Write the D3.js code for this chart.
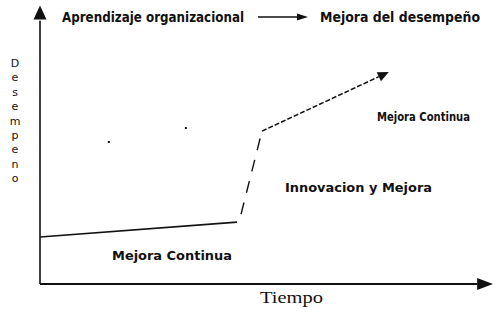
<!DOCTYPE html>
<html><head><meta charset="utf-8">
<script src="https://cdn.jsdelivr.net/npm/d3@7"></script>
<style>html,body{margin:0;padding:0;background:#fff;}svg{display:block;}</style>
</head><body>
<script>
// Data (time in % of axis, performance in % of axis)
const phases = ["Mejora Continua", "Innovacion y Mejora", "Mejora Continua"];
const time = [0, 43.5, 49.0, 77.0];
const performance = [16.8, 22.1, 54.6, 75.7];
const specksTime = [15.2, 32.2];
const specksPerf = [50.7, 55.7];
const titleLeft = "Aprendizaje organizacional";
const titleRight = "Mejora del desempeño";
const yLabel = "Desempeno";
const xLabel = "Tiempo";

const W = 499, H = 320;
const svg = d3.select("body").append("svg").attr("width", W).attr("height", H);
const x = d3.scaleLinear().domain([0, 100]).range([40, 493]);
const y = d3.scaleLinear().domain([0, 100]).range([284, 4]);

const ink = "#111";
// Axes
svg.append("line").attr("x1", x(0)).attr("x2", x(0)).attr("y1", y(0)).attr("y2", y(94))
  .attr("stroke", ink).attr("stroke-width", 1.6);
svg.append("path").attr("d", `M${x(0)},${y(99.5)} L${x(0)-6.5},${y(94.5)} L${x(0)+6.5},${y(94.5)} Z`).attr("fill", ink);
svg.append("line").attr("x1", x(0)).attr("x2", x(96.5)).attr("y1", y(0)).attr("y2", y(0))
  .attr("stroke", ink).attr("stroke-width", 2.2);
svg.append("path").attr("d", `M${x(100)},${y(0)} L${x(96.5)},${y(0)-6} L${x(96.5)},${y(0)+6} Z`).attr("fill", ink);

// Data line
const pts = time.map((t, i) => [x(t), y(performance[i])]);
svg.append("line").attr("x1", pts[0][0]).attr("y1", pts[0][1]).attr("x2", pts[1][0]).attr("y2", pts[1][1])
  .attr("stroke", ink).attr("stroke-width", 1.6);
svg.append("line").attr("x1", pts[1][0] + 4).attr("y1", pts[1][1] - 8).attr("x2", pts[2][0]).attr("y2", pts[2][1])
  .attr("stroke", ink).attr("stroke-width", 1.4).attr("stroke-dasharray", "12,10");
const dx = pts[3][0] - pts[2][0], dy = pts[3][1] - pts[2][1];
const len = Math.hypot(dx, dy), ux = dx / len, uy = dy / len;
const hb = [pts[3][0] - ux * 11, pts[3][1] - uy * 11];
svg.append("line").attr("x1", pts[2][0]).attr("y1", pts[2][1]).attr("x2", hb[0]).attr("y2", hb[1])
  .attr("stroke", ink).attr("stroke-width", 1.5).attr("stroke-dasharray", "5,2");
svg.append("path").attr("d", `M${pts[3][0]},${pts[3][1]} L${hb[0] - uy * 5},${hb[1] + ux * 5} L${hb[0] + uy * 5},${hb[1] - ux * 5} Z`)
  .attr("fill", ink);

// specks
svg.selectAll("rect.speck").data(specksTime).join("rect").attr("class", "speck")
  .attr("x", (d) => x(d) - 1).attr("y", (d, i) => y(specksPerf[i]) - 1).attr("width", 2).attr("height", 2).attr("fill", ink);

const sans = "'Liberation Sans Narrow','DejaVu Sans Condensed','Liberation Sans',sans-serif";
function label(txt, x0, yb, w, size) {
  svg.append("text").attr("x", x0).attr("y", yb).attr("font-family", sans).attr("font-size", size)
    .attr("font-weight", "bold").attr("fill", ink).attr("textLength", w).attr("lengthAdjust", "spacingAndGlyphs").text(txt);
}
// Title
label(titleLeft, 62, 22, 182, 13.5);
svg.append("line").attr("x1", 258).attr("x2", 298).attr("y1", 17).attr("y2", 17).attr("stroke", ink).attr("stroke-width", 1.5);
svg.append("path").attr("d", "M308,17 L297,13.5 L297,20.5 Z").attr("fill", ink);
label(titleRight, 320, 22, 160, 13.5);

// Phase labels
label(phases[2], 377, 121, 93, 12.5);
label(phases[1], 285, 192, 147, 12.5);
label(phases[0], 112, 260, 120, 12.5);

// Y label vertical letters
svg.selectAll("text.yl").data(yLabel.split("")).join("text").attr("class", "yl")
  .attr("x", 15).attr("y", (d, i) => 67 + i * 14.4).attr("text-anchor", "middle")
  .attr("font-family", "'DejaVu Sans',sans-serif").attr("font-size", 11)
  .attr("fill", ink).text((d) => d);

// X label
svg.append("text").attr("x", 260).attr("y", 303).attr("font-family", "'Liberation Serif','DejaVu Serif',serif")
  .attr("font-size", 17).attr("fill", ink).attr("textLength", 63).attr("lengthAdjust", "spacingAndGlyphs").text(xLabel);
</script>
</body></html>
